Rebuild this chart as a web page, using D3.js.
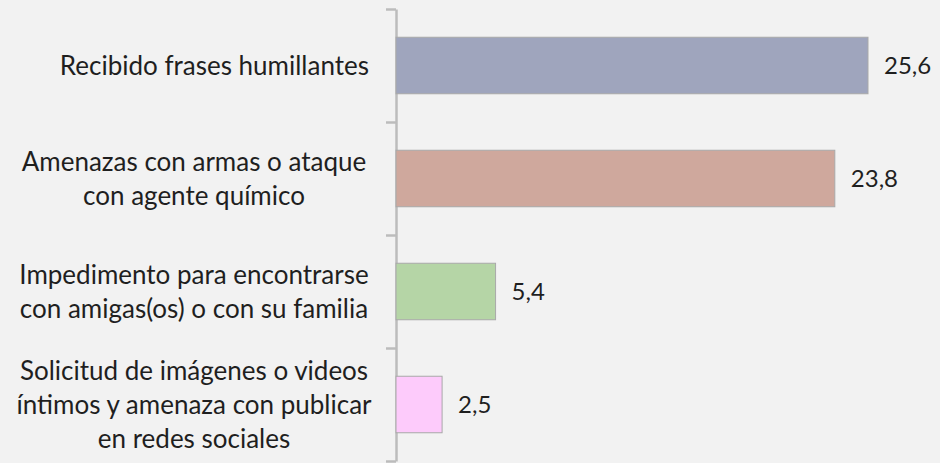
<!DOCTYPE html>
<html>
<head>
<meta charset="utf-8">
<script src="https://cdn.jsdelivr.net/npm/d3@7"></script>
<style>
  html, body { margin: 0; padding: 0; background: #f2f2f2; }
  svg { display: block; font-family: Lato, "Open Sans", sans-serif; }
</style>
</head>
<body>
<svg id="chart"></svg>
<script>
// data
const categories = [
  "Recibido frases humillantes",
  "Amenazas con armas o ataque con agente químico",
  "Impedimento para encontrarse con amigas(os) o con su familia",
  "Solicitud de imágenes o videos íntimos y amenaza con publicar en redes sociales"
];
const labelLines = [
  ["Recibido frases humillantes"],
  ["Amenazas con armas o ataque", "con agente químico"],
  ["Impedimento para encontrarse", "con amigas(os) o con su familia"],
  ["Solicitud de imágenes o videos", "íntimos y amenaza con publicar", "en redes sociales"]
];
const values = [25.6, 23.8, 5.4, 2.5];
const colors = ["#9fa5bd", "#cfa89d", "#b5d5a6", "#fdcbfb"];

const width = 940, height = 463;
const margin = { top: 9, bottom: 2, left: 396 };

const svg = d3.select("#chart")
    .attr("width", width)
    .attr("height", height);

svg.append("rect")
    .attr("width", width)
    .attr("height", height)
    .attr("fill", "#f2f2f2");

const y = d3.scaleBand()
    .domain(categories)
    .range([margin.top, height - margin.bottom])
    .paddingInner(0.5)
    .paddingOuter(0.25);

const x = d3.scaleLinear()
    .domain([0, 25.6])
    .range([margin.left, 868]);

const fmt = d3.formatLocale({ decimal: ",", thousands: ".", grouping: [3], currency: ["", ""] }).format(".1f");

// category axis, ticks sit between the categories
const yEdges = d3.scaleLinear()
    .domain([0, categories.length])
    .range([margin.top, height - margin.bottom]);

const axis = svg.append("g")
    .attr("transform", `translate(${margin.left},0)`)
    .call(d3.axisLeft(yEdges)
        .tickValues(d3.range(categories.length + 1))
        .tickSize(10)
        .tickSizeOuter(0)
        .tickFormat(""));
axis.selectAll("path, line")
    .attr("stroke", "#bcbcbc")
    .attr("stroke-width", 2.5);

// bars
svg.selectAll(".bar")
    .data(values)
    .join("rect")
    .attr("class", "bar")
    .attr("x", x(0))
    .attr("y", (d, i) => y(categories[i]))
    .attr("width", d => x(d) - x(0))
    .attr("height", y.bandwidth())
    .attr("fill", (d, i) => colors[i])
    .attr("stroke", "#a9a9a9")
    .attr("stroke-width", 1);

// value labels
svg.selectAll(".val")
    .data(values)
    .join("text")
    .attr("class", "val")
    .attr("x", d => x(d) + 16)
    .attr("y", (d, i) => y(categories[i]) + y.bandwidth() / 2)
    .attr("dy", "0.35em")
    .attr("font-size", 24)
    .attr("fill", "#1f1f1f")
    .text(d => fmt(d));

// category labels: single line sits against the axis, wrapped ones are centred
const lineH = 34;
svg.selectAll(".cat")
    .data(labelLines)
    .join("text")
    .attr("class", "cat")
    .attr("text-anchor", d => d.length > 1 ? "middle" : "end")
    .attr("font-size", 26)
    .attr("fill", "#1f1f1f")
    .each(function(lines, i) {
        const cy = y(categories[i]) + y.bandwidth() / 2;
        const y0 = cy - (lines.length - 1) * lineH / 2;
        d3.select(this).selectAll("tspan")
            .data(lines)
            .join("tspan")
            .attr("x", lines.length > 1 ? 194 : 369)
            .attr("y", (l, j) => y0 + j * lineH)
            .attr("dy", "0.35em")
            .text(l => l);
    });
</script>
</body>
</html>
